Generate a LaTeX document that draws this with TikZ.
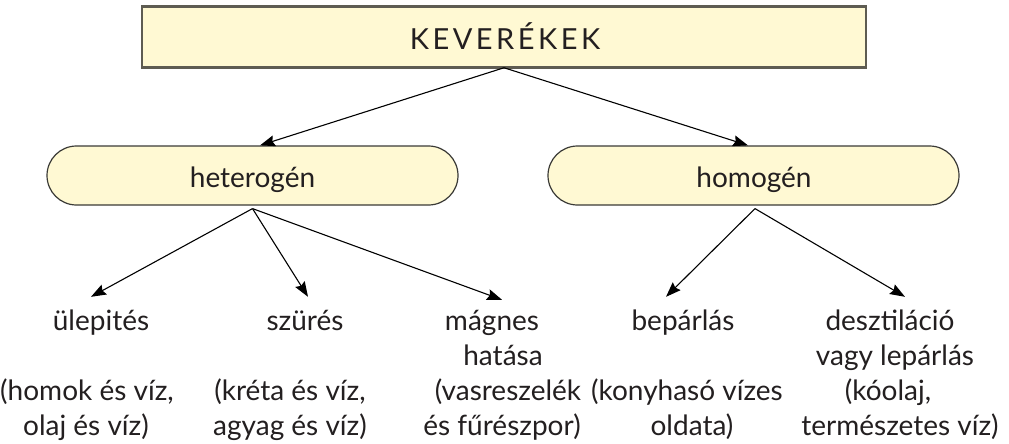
\documentclass[tikz,border=0pt]{standalone}
\usepackage{fontspec}
\setmainfont{Lato}
\usetikzlibrary{arrows.meta}
\definecolor{boxfill}{HTML}{FFF9D3}
\definecolor{txt}{HTML}{231F20}
\definecolor{edge}{HTML}{3A3A36}
\definecolor{topedge}{HTML}{5E5C52}
\begin{document}
\begin{tikzpicture}[x=1pt,y=-1pt,
  lbl/.style={anchor=base,inner sep=0pt,text=txt,font=\fontsize{28}{34}\selectfont},
  target/.style={lbl,text height=22pt,inner ysep=11pt},
  topbox/.style={draw=topedge,line width=1.5pt,fill=boxfill,minimum width=724pt,minimum height=60pt,inner sep=0pt},
  pill/.style={draw=edge,line width=1.2pt,fill=boxfill,rounded corners=29.5pt,minimum width=411pt,minimum height=59pt,inner sep=0pt},
  arr/.style={draw=black,line width=1.1pt,-{Stealth[length=15pt,width=11pt,inset=2pt]}},
  rim/.style={draw=topedge,line width=2.6pt}]
\useasboundingbox (0,0) rectangle (1009,444);
% top box
\node[topbox] (top) at (504,37) {};
\draw[rim] (top.north west) -- (top.north east);
\draw[rim] (top.south west) -- (top.south east);
\node[lbl,font=\fontsize{29}{34}\selectfont\addfontfeature{LetterSpace=12}] (kev) at (505,49) {KEVERÉKEK};
% pills
\node[pill] (het) at (252.5,175.5) {};
\node[pill] (hom) at (753.5,175.5) {};
\node[lbl] (hett) at (252.5,187) {heterogén};
\node[lbl] (homt) at (754,187) {homogén};
% row 1
\node[target] (ulep) at (101,330) {ülepités};
\node[target] (szur) at (305,330) {szürés};
\node[target] (magn) at (492,330) {mágnes};
\node[target] (bep) at (683,330) {bepárlás};
\node[target] (desz) at (890,330) {desztiláció};
% row 2
\node[lbl] (hat) at (503,365) {hatása};
\node[lbl] (vagy) at (895,365) {vagy lepárlás};
% row 3
\node[lbl] (e1a) at (87,400) {(homok és víz,};
\node[lbl] (e2a) at (290,400) {(kréta és víz,};
\node[lbl] (e3a) at (508,400) {(vasreszelék};
\node[lbl] (e4a) at (687,400) {(konyhasó vízes};
\node[lbl] (e5a) at (888,400) {(kóolaj,};
% row 4
\node[lbl] (e1b) at (86,435) {olaj és víz)};
\node[lbl] (e2b) at (290,435) {agyag és víz)};
\node[lbl] (e3b) at (502,435) {és fűrészpor)};
\node[lbl] (e4b) at (692,435) {oldata)};
\node[lbl] (e5b) at (900,435) {természetes víz)};
% connectors
\draw[arr] (top.south) -- ([xshift=7.5pt]het.north);
\draw[arr] (top.south) -- ([xshift=-5.5pt]hom.north);
\draw[arr] ([yshift=-3pt]het.south) -- ([xshift=-10pt]ulep.north);
\draw[arr] ([yshift=-3pt]het.south) -- ([xshift=3pt]szur.north);
\draw[arr] ([yshift=-3pt]het.south) -- ([xshift=10pt,yshift=-3pt]magn.north);
\draw[arr] ([xshift=1.5pt,yshift=-3pt]hom.south) -- ([xshift=-17pt]bep.north);
\draw[arr] ([xshift=1.5pt,yshift=-3pt]hom.south) -- ([xshift=15pt]desz.north);
\end{tikzpicture}
\end{document}
